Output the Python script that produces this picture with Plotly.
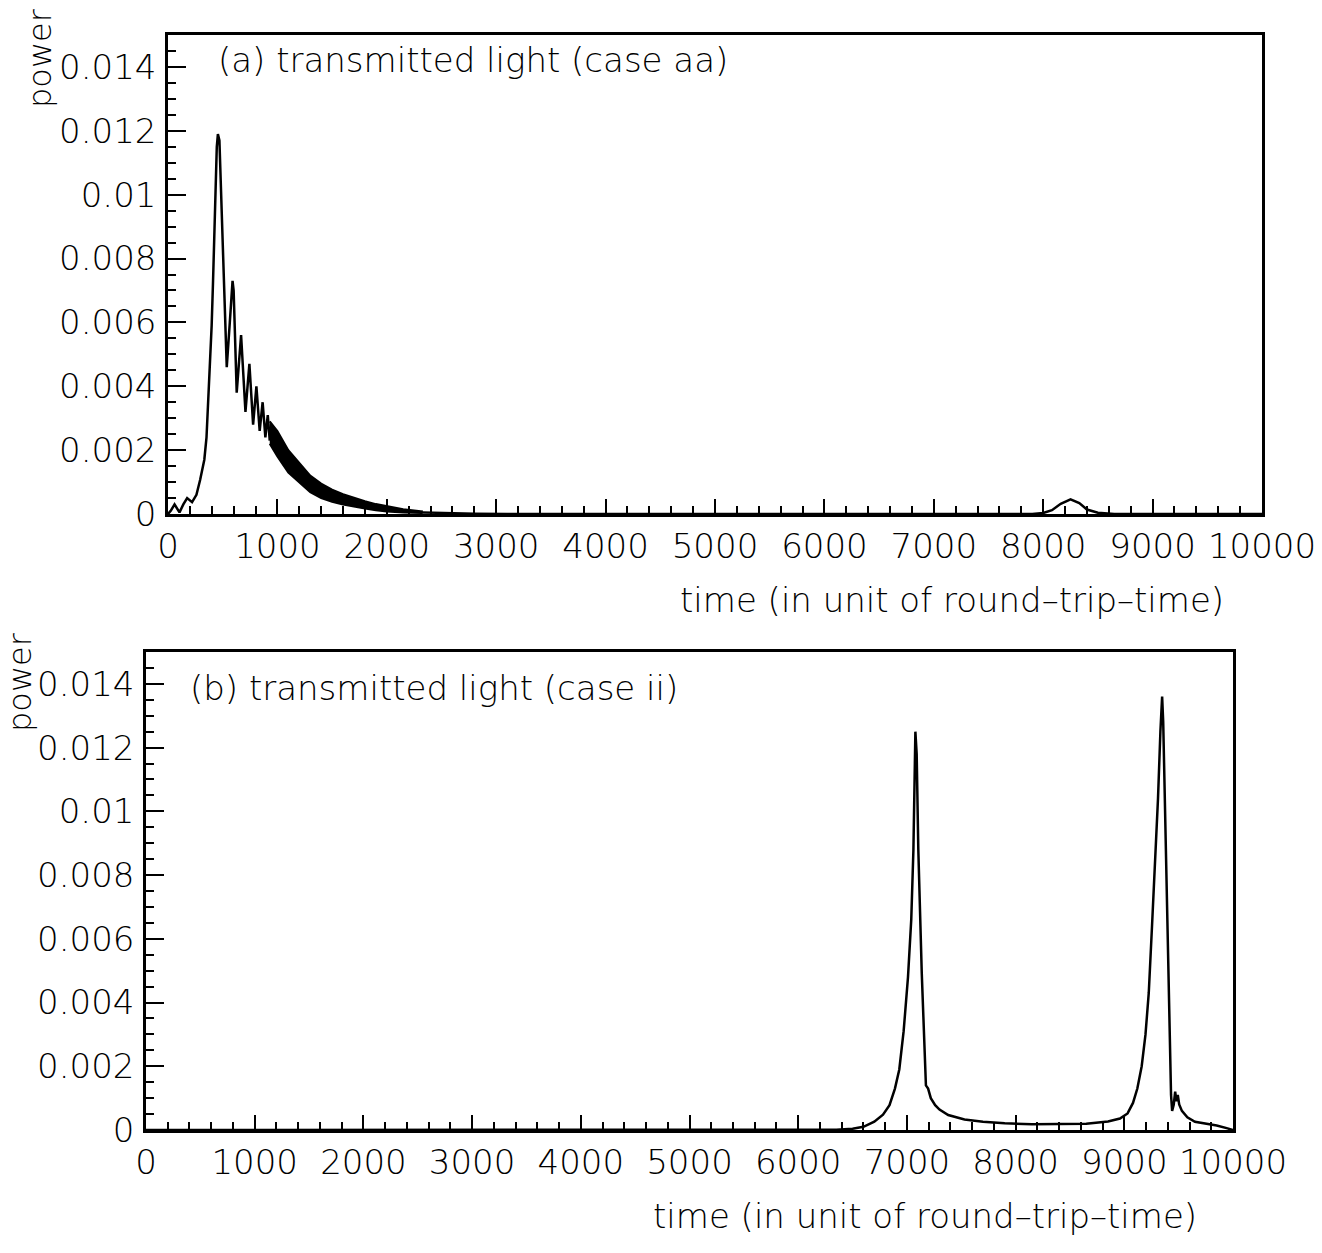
import plotly.graph_objects as go

# ---------------------------------------------------------------
# (a) case aa : build-up, main pulse and the first resolved ripples
time_a = [0, 25, 60, 105, 140, 175, 220, 260, 294, 332, 352, 368, 385, 399,
          411, 423, 432, 446, 456, 470, 500, 537, 565, 590, 600, 628, 668,
          708, 744, 778, 808, 838, 865, 890, 912, 930]
power_a = [0, 0.0001, 0.0003, 0.00005, 0.0003, 0.0005, 0.00037, 0.0006,
           0.00107, 0.0017, 0.0024, 0.0035, 0.0046, 0.0059, 0.0072, 0.0087,
           0.0102, 0.0115, 0.0119, 0.0117, 0.0085, 0.0046, 0.0060, 0.0073,
           0.0070, 0.0038, 0.0056, 0.0032, 0.0047, 0.0028, 0.0040, 0.0026,
           0.0035, 0.0024, 0.0031, 0.0023]

# (a) unresolved fast ripple: upper and lower envelope of the dark band
band_time_a = [930, 1000, 1100, 1200, 1300, 1400, 1500, 1600, 1700, 1800,
               1900, 2000, 2150, 2330]
band_upper_a = [0.0029, 0.0026, 0.0020, 0.0016, 0.0012, 0.00095, 0.00076,
                0.00062, 0.0005, 0.0004, 0.00031, 0.00024, 0.00015, 0.00008]
band_lower_a = [0.0022, 0.0018, 0.0013, 0.0010, 0.00068, 0.0005, 0.00038,
                0.0003, 0.00023, 0.00017, 0.00012, 0.00008, 0.00005, 0.00003]

# (a) quiet tail with the small bump near t = 8250
tail_time_a = [2330, 2500, 2800, 3100, 7900, 8000, 8080, 8160, 8250, 8330,
               8400, 8500, 8650, 10000]
tail_power_a = [0.00005, 0.00003, 0.00001, 0, 0, 0.00003, 0.00012, 0.00032,
                0.00046, 0.00034, 0.00014, 0.00004, 0, 0]

# (b) case ii : two sharp pulses
time_b = [0, 6200, 6350, 6500, 6600, 6700, 6780, 6840, 6890, 6930, 6970,
          7010, 7040, 7060, 7070, 7078, 7090, 7105, 7137, 7165, 7175, 7195,
          7220, 7260, 7300, 7380, 7530, 7700, 7900, 8150, 8400, 8650, 8850,
          8960, 9030, 9080, 9120, 9160, 9195, 9225, 9255, 9285, 9310, 9332,
          9348, 9358, 9375, 9400, 9418, 9430, 9440, 9455, 9468, 9480, 9492,
          9505, 9530, 9580, 9650, 9750, 9850, 9950, 10000]
power_b = [0, 0, 0.00001, 0.00004, 0.0001, 0.00026, 0.00048, 0.00078,
           0.0013, 0.0019, 0.0031, 0.0048, 0.0066, 0.0088, 0.0110, 0.0125,
           0.0118, 0.0088, 0.0049, 0.0020, 0.0014, 0.0013, 0.0010, 0.00078,
           0.00064, 0.00047, 0.00033, 0.00026, 0.00021, 0.00018, 0.00018,
           0.0002, 0.00027, 0.00036, 0.00052, 0.00085, 0.0013, 0.0020,
           0.0030, 0.0043, 0.0064, 0.0085, 0.0104, 0.0125, 0.0136, 0.0128,
           0.0100, 0.0062, 0.0030, 0.0011, 0.0006, 0.0008, 0.0012, 0.0009,
           0.0011, 0.0008, 0.0006, 0.0004, 0.00026, 0.0002, 0.00014,
           0.00005, 0]

# axis ticks
x_tick_vals = [0, 1000, 2000, 3000, 4000, 5000, 6000, 7000, 8000, 9000, 10000]
x_tick_text = ["0", "1000", "2000", "3000", "4000", "5000", "6000", "7000",
               "8000", "9000", "10000"]
y_tick_vals = [0, 0.002, 0.004, 0.006, 0.008, 0.010, 0.012, 0.014]
y_tick_text = ["0", "0.002", "0.004", "0.006", "0.008", "0.01", "0.012",
               "0.014"]

panel_titles = ["(a) transmitted light (case aa)",
                "(b) transmitted light (case ii)"]
x_title = "time (in unit of round\u2013trip\u2013time)"
y_title = "power"

# ---------------------------------------------------------------
W, H = 1322, 1253
FONT = "DejaVu Sans"
INK = "black"
FSIZE = 34


def fx(px):
    return px / W


def fy(py):
    return 1 - py / H


line_style = dict(color=INK, width=2.5)
edge_style = dict(color=INK, width=2)

fig = go.Figure()
fig.add_trace(go.Scatter(x=time_a, y=power_a, mode="lines", line=line_style,
                         xaxis="x", yaxis="y"))
fig.add_trace(go.Scatter(x=band_time_a, y=band_lower_a, mode="lines",
                         line=edge_style, xaxis="x", yaxis="y"))
fig.add_trace(go.Scatter(x=band_time_a, y=band_upper_a, mode="lines",
                         line=edge_style, fill="tonexty", fillcolor=INK,
                         xaxis="x", yaxis="y"))
fig.add_trace(go.Scatter(x=tail_time_a, y=tail_power_a, mode="lines",
                         line=line_style, xaxis="x", yaxis="y"))
fig.add_trace(go.Scatter(x=time_b, y=power_b, mode="lines", line=line_style,
                         xaxis="x2", yaxis="y2"))

tick_font = dict(family=FONT, size=FSIZE, color=INK, weight=300)


def x_axis(domain, anchor):
    return dict(
        domain=domain, anchor=anchor, range=[0, 10000], automargin=False,
        tickmode="array", tickvals=x_tick_vals, ticktext=x_tick_text,
        ticks="inside", ticklen=15, tickwidth=2, tickcolor=INK,
        minor=dict(tickmode="linear", tick0=0, dtick=200, ticks="inside",
                   ticklen=8, tickwidth=1.5, tickcolor=INK, showgrid=False),
        showline=True, linecolor=INK, linewidth=2.5, mirror=True,
        showgrid=False, zeroline=False, ticklabelstandoff=0,
        tickfont=tick_font,
    )


def y_axis(domain, anchor):
    return dict(
        domain=domain, anchor=anchor, range=[0, 0.015], automargin=False,
        tickmode="array", tickvals=y_tick_vals, ticktext=y_tick_text,
        ticks="inside", ticklen=18, tickwidth=2, tickcolor=INK,
        minor=dict(tickmode="linear", tick0=0, dtick=0.0005, ticks="inside",
                   ticklen=8, tickwidth=1.5, tickcolor=INK, showgrid=False),
        showline=True, linecolor=INK, linewidth=2.5, mirror=True,
        showgrid=False, zeroline=False, ticklabelstandoff=2,
        tickfont=tick_font,
    )


top = dict(l=168, r=1262, t=35, b=514)
bot = dict(l=146, r=1233, t=652, b=1130)

fig.update_layout(
    width=W, height=H,
    margin=dict(l=0, r=0, t=0, b=0, autoexpand=False),
    paper_bgcolor="white", plot_bgcolor="white",
    showlegend=False,
    xaxis=x_axis([fx(top["l"]), fx(top["r"])], "y"),
    yaxis=y_axis([fy(top["b"]), fy(top["t"])], "x"),
    xaxis2=x_axis([fx(bot["l"]), fx(bot["r"])], "y2"),
    yaxis2=y_axis([fy(bot["b"]), fy(bot["t"])], "x2"),
)

text_font = dict(family=FONT, size=FSIZE, color=INK, weight=300)
label_font = dict(family=FONT, size=32, color=INK, weight=300)
annotations = [
    dict(text=panel_titles[0], x=fx(216), y=fy(60), xanchor="left",
         yanchor="middle", font=text_font),
    dict(text=panel_titles[1], x=fx(188), y=fy(688), xanchor="left",
         yanchor="middle", font=text_font),
    dict(text=x_title, x=fx(952), y=fy(600), xanchor="center",
         yanchor="middle", font=text_font),
    dict(text=x_title, x=fx(925), y=fy(1216), xanchor="center",
         yanchor="middle", font=text_font),
    dict(text=y_title, x=fx(40), y=fy(58), xanchor="center",
         yanchor="middle", textangle=-90, font=label_font),
    dict(text=y_title, x=fx(20), y=fy(682), xanchor="center",
         yanchor="middle", textangle=-90, font=label_font),
]
for a in annotations:
    a.update(xref="paper", yref="paper", showarrow=False)
fig.update_layout(annotations=annotations)

fig.write_html("out.html")
